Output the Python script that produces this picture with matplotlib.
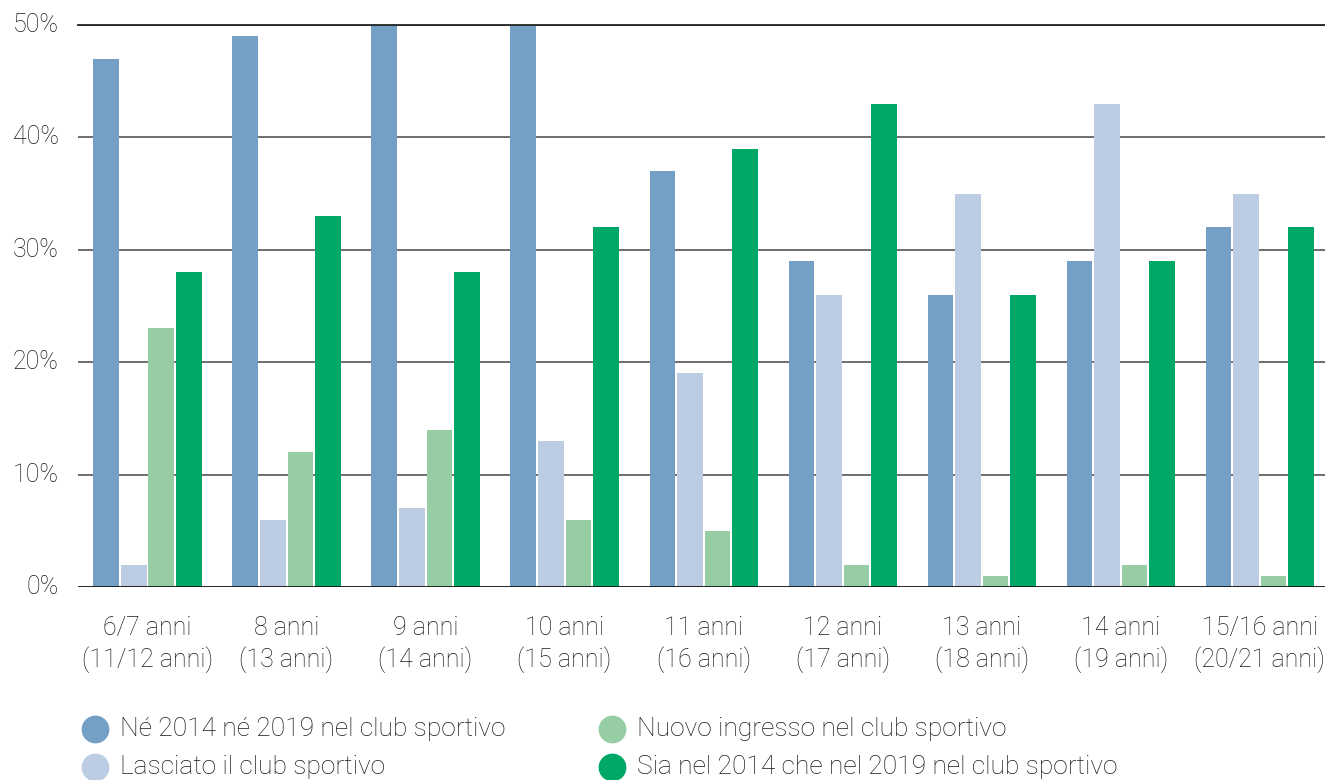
import matplotlib
matplotlib.use("Agg")
import matplotlib.pyplot as plt
from matplotlib.lines import Line2D
import numpy as np

categories = ["6/7 anni\n(11/12 anni)", "8 anni\n(13 anni)", "9 anni\n(14 anni)", "10 anni\n(15 anni)",
              "11 anni\n(16 anni)", "12 anni\n(17 anni)", "13 anni\n(18 anni)", "14 anni\n(19 anni)",
              "15/16 anni\n(20/21 anni)"]
series_names = ["Né 2014 né 2019 nel club sportivo", "Lasciato il club sportivo",
                "Nuovo ingresso nel club sportivo", "Sia nel 2014 che nel 2019 nel club sportivo"]
ne_ne = [47, 49, 50, 50, 37, 29, 26, 29, 32]
lasciato = [2, 6, 7, 13, 19, 26, 35, 43, 35]
nuovo = [23, 12, 14, 6, 5, 2, 1, 2, 1]
sia = [28, 33, 28, 32, 39, 43, 26, 29, 32]
colors = ["#74a0c6", "#bccde3", "#97cda5", "#00a868"]
yticks = [0, 10, 20, 30, 40, 50]
ytick_labels = ["0%", "10%", "20%", "30%", "40%", "50%"]

plt.rcParams['font.family'] = ['Roboto', 'DejaVu Sans']
plt.rcParams['font.weight'] = 'light'
W, H = 1325, 780
fig = plt.figure(figsize=(W/100, H/100), dpi=100)
ax = fig.add_axes([78/W, 1-587/H, 1-78/W, (587-25)/H])

x = np.arange(len(categories))
slot = 0.198
width = 0.184
all_series = [ne_ne, lasciato, nuovo, sia]
for i, (vals, c, name) in enumerate(zip(all_series, colors, series_names)):
    ax.bar(x + (i - 1.5) * slot, vals, width=width, color=c, label=name, zorder=3)

FS = 18
TC = "#1a1a1a"
ax.set_xlim(-0.5, 8.47)
ax.set_ylim(0, 50)
ax.set_yticks(yticks)
ax.set_yticklabels(ytick_labels)
for t in yticks[1:]:
    ax.axhline(t, color="#555555", lw=1.2, zorder=1)
ax.axhline(0, color="#111111", lw=2, zorder=4)
ax.axhline(50, color="#222222", lw=1.3, zorder=4, clip_on=False)
for s in ax.spines.values():
    s.set_visible(False)
ax.tick_params(axis='y', length=0, pad=14, labelsize=FS, labelcolor=TC)
ax.tick_params(axis='x', length=0, pad=21, labelsize=FS, labelcolor=TC)
ax.set_xticks(x)
ax.set_xticklabels(categories, linespacing=1.3)
for lbl in ax.get_yticklabels():
    lbl.set_verticalalignment('center')

# legend (manual, two columns)
pos = [(95, 729), (95, 767), (612, 729), (612, 767)]
for (px, py), c, name in zip(pos, colors, series_names):
    fig.add_artist(Line2D([px/W], [1-py/H], marker='o', markersize=19, color=c,
                          linestyle='', transform=fig.transFigure))
    fig.text((px+25)/W, 1-py/H, name, fontsize=19, color=TC, va='center', ha='left')

fig.savefig("out.png", dpi=100)
